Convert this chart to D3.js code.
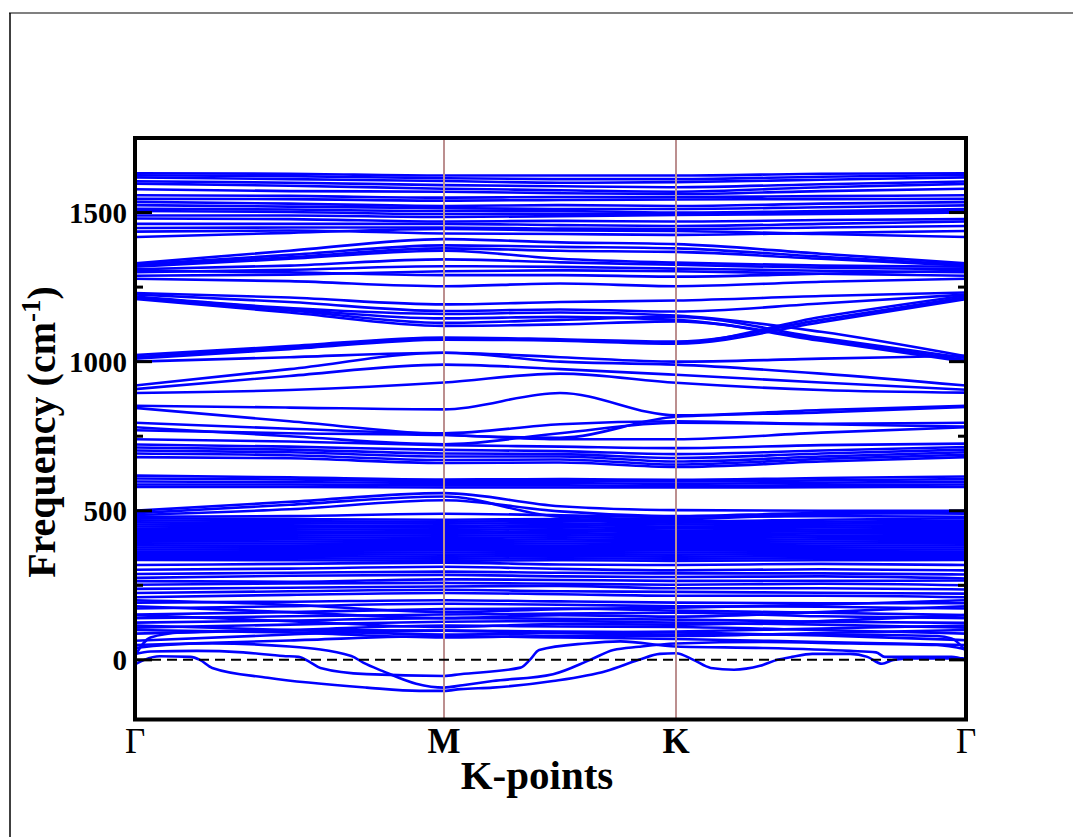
<!DOCTYPE html>
<html>
<head>
<meta charset="utf-8">
<script src="https://cdn.jsdelivr.net/npm/d3@7"></script>
<style>
  body { margin: 0; background: #fff; }
  text { font-family: "Liberation Serif", "Times New Roman", serif; font-weight: bold; }
</style>
</head>
<body>
<div id="chart"></div>
<script>
// high symmetry points along the path
var kLabels = ['\u0393', 'M', 'K', '\u0393'];
var kTicks = [0, 1, 2, 3];
// sample positions for the banded data (fraction of path between labels)
var kSamples = [0, 0.5, 1, 1.5, 2, 2.5, 3];

var yMajor = [0, 500, 1000, 1500];
var yMinor = [250, 750, 1250];

// optical bands above 1400 cm-1
var highBands = [
  [1632, 1630, 1624, 1624, 1624, 1630, 1632],
  [1625, 1622, 1615, 1612, 1612, 1620, 1626],
  [1618, 1612, 1606, 1600, 1602, 1610, 1618],
  [1605, 1600, 1592, 1588, 1585, 1595, 1604],
  [1597, 1590, 1580, 1575, 1570, 1585, 1596],
  [1578, 1572, 1570, 1565, 1562, 1572, 1580],
  [1558, 1556, 1550, 1552, 1552, 1555, 1558],
  [1546, 1545, 1540, 1542, 1544, 1545, 1546],
  [1536, 1530, 1522, 1525, 1522, 1530, 1535],
  [1525, 1520, 1515, 1512, 1512, 1518, 1524],
  [1513, 1510, 1505, 1505, 1500, 1505, 1512],
  [1505, 1502, 1495, 1496, 1495, 1500, 1505],
  [1490, 1490, 1485, 1488, 1492, 1495, 1500],
  [1480, 1478, 1470, 1472, 1470, 1475, 1478],
  [1462, 1462, 1462, 1458, 1455, 1462, 1470],
  [1448, 1450, 1450, 1446, 1445, 1450, 1455],
  [1436, 1440, 1430, 1428, 1425, 1432, 1438],
  [1418, 1432, 1445, 1440, 1438, 1428, 1418]
];

// crossing bands 900 - 1420
var crossBands = [
  [1330, 1372, 1411, 1400, 1394, 1362, 1330],
  [1326, 1358, 1390, 1385, 1380, 1352, 1325],
  [1322, 1350, 1380, 1372, 1368, 1345, 1322],
  [1318, 1345, 1372, 1345, 1332, 1322, 1318],
  [1310, 1322, 1343, 1333, 1325, 1315, 1310],
  [1305, 1300, 1290, 1290, 1285, 1295, 1305],
  [1300, 1308, 1320, 1318, 1312, 1305, 1300],
  [1288, 1292, 1303, 1306, 1303, 1295, 1288],
  [1278, 1270, 1253, 1262, 1253, 1268, 1278],
  [1230, 1215, 1192, 1200, 1205, 1220, 1232],
  [1225, 1200, 1170, 1175, 1168, 1195, 1225],
  [1218, 1180, 1160, 1165, 1155, 1100, 1018],
  [1214, 1172, 1130, 1140, 1150, 1080, 1012],
  [1216, 1176, 1145, 1150, 1140, 1075, 1005],
  [1210, 1165, 1120, 1125, 1135, 1070, 1000],
  [1022, 1052, 1081, 1075, 1067, 1140, 1216],
  [1015, 1048, 1078, 1072, 1064, 1150, 1222],
  [1010, 1042, 1074, 1070, 1060, 1132, 1210],
  [1000, 1015, 1030, 1015, 1000, 1010, 1020],
  [920, 975, 1030, 1000, 990, 960, 920],
  [908, 952, 990, 975, 956, 930, 906],
  [895, 905, 930, 960, 929, 905, 896]
];

// bands 480 - 900
var midBands = [
  [852, 846, 840, 895, 820, 838, 852],
  [845, 800, 755, 745, 815, 830, 848],
  [795, 775, 760, 790, 800, 792, 795],
  [780, 750, 723, 760, 795, 790, 782],
  [770, 760, 754, 740, 740, 762, 780],
  [740, 732, 720, 715, 710, 720, 725],
  [722, 715, 704, 700, 690, 702, 714],
  [712, 705, 692, 690, 677, 692, 705],
  [702, 696, 682, 682, 665, 682, 696],
  [692, 686, 670, 672, 655, 674, 688],
  [680, 676, 660, 662, 647, 665, 680],
  [618, 612, 605, 606, 604, 610, 615],
  [608, 605, 600, 601, 598, 602, 606],
  [598, 596, 593, 593, 590, 594, 597],
  [588, 588, 585, 585, 583, 586, 588],
  [580, 580, 578, 578, 578, 579, 580],
  [500, 530, 559, 515, 502, 500, 500],
  [492, 520, 548, 480, 472, 488, 494],
  [486, 505, 535, 498, 482, 492, 490],
  [480, 482, 490, 485, 480, 482, 480]
];

// dense block 330 - 475
var denseBands = [
  [475, 472, 470, 472, 465, 470, 475],
  [468, 465, 463, 466, 460, 463, 467],
  [461, 458, 457, 458, 454, 457, 460],
  [454, 451, 449, 452, 447, 450, 453],
  [447, 445, 443, 445, 441, 444, 446],
  [440, 438, 436, 438, 434, 437, 439],
  [433, 431, 429, 432, 428, 431, 433],
  [426, 425, 423, 425, 421, 424, 426],
  [419, 418, 416, 418, 415, 417, 419],
  [412, 411, 409, 411, 408, 411, 412],
  [405, 404, 402, 404, 401, 404, 405],
  [398, 397, 395, 397, 395, 397, 398],
  [391, 390, 388, 390, 388, 390, 391],
  [384, 383, 381, 383, 381, 383, 384],
  [377, 376, 374, 376, 374, 376, 377],
  [370, 369, 367, 369, 367, 369, 370],
  [363, 362, 360, 362, 360, 362, 363],
  [356, 355, 353, 355, 353, 355, 356],
  [349, 348, 346, 348, 346, 348, 349],
  [342, 341, 339, 341, 339, 341, 342],
  [335, 334, 332, 334, 332, 334, 335]
];

// bands 50 - 330
var lowBands = [
  [318, 322, 326, 320, 318, 322, 318],
  [302, 306, 312, 305, 300, 304, 300],
  [288, 292, 296, 292, 290, 290, 286],
  [275, 282, 285, 280, 278, 280, 273],
  [264, 262, 270, 268, 265, 265, 266],
  [252, 256, 258, 255, 252, 255, 250],
  [238, 242, 246, 248, 240, 240, 236],
  [224, 230, 235, 230, 228, 225, 222],
  [210, 218, 224, 220, 215, 215, 210],
  [200, 185, 160, 170, 175, 185, 200],
  [192, 195, 200, 196, 192, 190, 190],
  [180, 160, 140, 150, 145, 160, 180],
  [172, 180, 188, 185, 180, 178, 172],
  [152, 160, 170, 172, 165, 158, 150],
  [150, 130, 110, 120, 118, 130, 150],
  [140, 146, 152, 155, 158, 146, 140],
  [125, 132, 140, 138, 135, 128, 124],
  [115, 100, 85, 90, 95, 105, 115],
  [108, 118, 128, 130, 125, 118, 108],
  [100, 92, 75, 80, 80, 90, 100],
  [88, 100, 115, 112, 110, 100, 88],
  [64, 85, 98, 95, 92, 82, 66],
  [50, 65, 80, 75, 70, 60, 50]
];

// acoustic / soft bands, [k, freq] pairs
var bandA = [[0, -15], [0.03, 0], [0.08, 12], [0.18, 10], [0.21, 0], [0.25, -27], [0.43, -60],
  [0.75, -93], [0.92, -104], [1, -104], [1.07, -98], [1.21, -93], [1.47, -71], [1.70, -37],
  [1.84, 0], [1.93, 20], [2, 22], [2.06, 0], [2.12, -27], [2.20, -33], [2.29, -20], [2.35, 0],
  [2.40, 10], [2.47, 20], [2.60, 20], [2.66, 10], [2.71, -13], [2.75, 0], [2.82, 5], [2.99, 5], [3, -10]];
var bandB = [[0, 20], [0.05, 28], [0.2, 30], [0.35, 25], [0.48, 13], [0.53, 10], [0.57, -10],
  [0.6, -27], [0.75, -48], [1, -54], [1.07, -48], [1.33, -26], [1.37, 0], [1.41, 33], [1.61, 55],
  [1.76, 62], [2, 45], [2.3, 40], [2.6, 30], [2.69, 25], [2.72, 10], [2.95, 10], [3, 0]];
var bandC = [[0, 40], [0.1, 50], [0.25, 55], [0.5, 45], [0.7, 13], [0.74, -10], [0.8, -37],
  [0.91, -80], [1, -93], [1.08, -85], [1.21, -71], [1.47, -48], [1.63, 0], [1.73, 33], [1.84, 44],
  [2, 55], [2.3, 60], [2.6, 55], [2.9, 50], [3, 35]];
var bandD = [[0, 15], [0.05, 75], [0.15, 92], [0.5, 100], [1, 98], [1.5, 90], [2, 85],
  [2.5, 85], [2.9, 80], [2.95, 72], [3, 30]];

var width = 1073, height = 837;
var svg = d3.select('#chart').append('svg')
  .attr('width', width)
  .attr('height', height);

// page border
svg.append('line').attr('x1', 9).attr('x2', width).attr('y1', 13).attr('y2', 13)
  .attr('stroke', '#808080').attr('stroke-width', 2);
svg.append('line').attr('x1', 10).attr('x2', 10).attr('y1', 13).attr('y2', height)
  .attr('stroke', '#000').attr('stroke-width', 1.5);

var x = d3.scaleLinear().domain(kTicks).range([135, 444, 676, 966]);
var y = d3.scaleLinear().domain([-200, 1750]).range([719.5, 138]);

var plot = svg.append('g');
plot.append('clipPath').attr('id', 'clip')
  .append('rect').attr('x', 135).attr('y', 138).attr('width', 831).attr('height', 581.5);

var line = d3.line()
  .x(function (d) { return x(d[0]); })
  .y(function (d) { return y(d[1]); })
  .curve(d3.curveMonotoneX);

var sampled = highBands.concat(crossBands, midBands, denseBands, lowBands).map(function (b) {
  return b.map(function (v, i) { return [kSamples[i], v]; });
});
var allBands = sampled.concat([bandD, bandC, bandB, bandA]);

plot.append('g').attr('clip-path', 'url(#clip)')
  .selectAll('path')
  .data(allBands)
  .enter()
  .append('path')
  .attr('d', line)
  .attr('fill', 'none')
  .attr('stroke', '#0000ff')
  .attr('stroke-width', 2.6);

// vertical lines at M and K
plot.selectAll('.kline')
  .data([1, 2])
  .enter()
  .append('line')
  .attr('x1', function (d) { return x(d); })
  .attr('x2', function (d) { return x(d); })
  .attr('y1', 138).attr('y2', 719.5)
  .attr('stroke', '#bc8f8f')
  .attr('stroke-width', 2);

// zero line
plot.append('line')
  .attr('x1', 135).attr('x2', 966)
  .attr('y1', y(0)).attr('y2', y(0))
  .attr('stroke', '#000')
  .attr('stroke-width', 2)
  .attr('stroke-dasharray', '10,6');

// ticks, inside on both sides
var tickG = plot.append('g').attr('stroke', '#000').attr('stroke-width', 3);
yMajor.forEach(function (v) {
  tickG.append('line').attr('x1', 135).attr('x2', 152).attr('y1', y(v)).attr('y2', y(v));
  tickG.append('line').attr('x1', 949).attr('x2', 966).attr('y1', y(v)).attr('y2', y(v));
});
yMinor.forEach(function (v) {
  tickG.append('line').attr('x1', 135).attr('x2', 143).attr('y1', y(v)).attr('y2', y(v));
  tickG.append('line').attr('x1', 958).attr('x2', 966).attr('y1', y(v)).attr('y2', y(v));
});

// frame
plot.append('rect')
  .attr('x', 135).attr('y', 138).attr('width', 831).attr('height', 581.5)
  .attr('fill', 'none').attr('stroke', '#000').attr('stroke-width', 4);

// y tick labels
svg.selectAll('.ylab')
  .data(yMajor)
  .enter()
  .append('text')
  .attr('x', 127)
  .attr('y', function (d) { return y(d); })
  .attr('dy', '0.35em')
  .attr('text-anchor', 'end')
  .attr('font-size', 29)
  .text(function (d) { return d; });

// x tick labels
svg.selectAll('.xlab')
  .data(kTicks)
  .enter()
  .append('text')
  .attr('x', function (d) { return x(d); })
  .attr('y', 753)
  .attr('text-anchor', 'middle')
  .attr('font-size', 35)
  .style('font-weight', function (d, i) { return kLabels[i] === 'M' || kLabels[i] === 'K' ? 'bold' : 'normal'; })
  .text(function (d, i) { return kLabels[i]; });

svg.append('text')
  .attr('x', 537).attr('y', 789)
  .attr('text-anchor', 'middle')
  .attr('font-size', 41)
  .text('K-points');

var yt = svg.append('text')
  .attr('transform', 'translate(55,432) rotate(-90)')
  .attr('text-anchor', 'middle')
  .attr('font-size', 40);
yt.append('tspan').text('Frequency (cm');
yt.append('tspan').attr('dy', -15).attr('font-size', 27).text('-1');
yt.append('tspan').attr('dy', 15).text(')');
</script>
</body>
</html>
